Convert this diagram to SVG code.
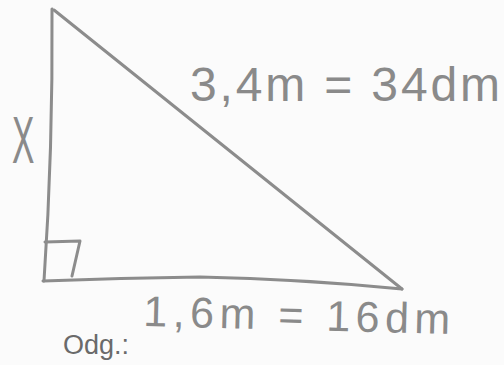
<svg xmlns="http://www.w3.org/2000/svg" width="504" height="365" viewBox="0 0 504 365">
<style>
.ln{fill:none;stroke:#8c8c8c;stroke-width:3;stroke-linecap:round;stroke-linejoin:round}
.hw{font-family:"Liberation Sans","DejaVu Sans",sans-serif;fill:#8a8a8a;font-weight:normal}
.pr{font-family:"Liberation Sans",Arial,sans-serif;fill:#6a6a6a}
</style>
<rect width="504" height="365" fill="#fbfbfb"/>
<g id="triangle">
<path class="ln" d="M52,9 Q53,150 44,281"/>
<path class="ln" d="M43,281 Q120,278 200,277 Q300,279 402,289"/>
<path class="ln" d="M54,10 L402,289"/>
<path class="ln" d="M45,242 L80,241 L72,276"/>
</g>
<g id="labels">
<text class="hw" x="190" y="101" font-size="48" textLength="310" lengthAdjust="spacing">3,4m = 34dm</text>
<text class="hw" transform="translate(12,163) scale(0.5,1)" font-size="67">X</text>
<text class="hw" transform="translate(143,326) rotate(1.5)" font-size="43" textLength="307" lengthAdjust="spacing">1,6m = 16dm</text>
<text class="pr" x="63" y="354" font-size="27">Odg.:</text>
</g>
</svg>
